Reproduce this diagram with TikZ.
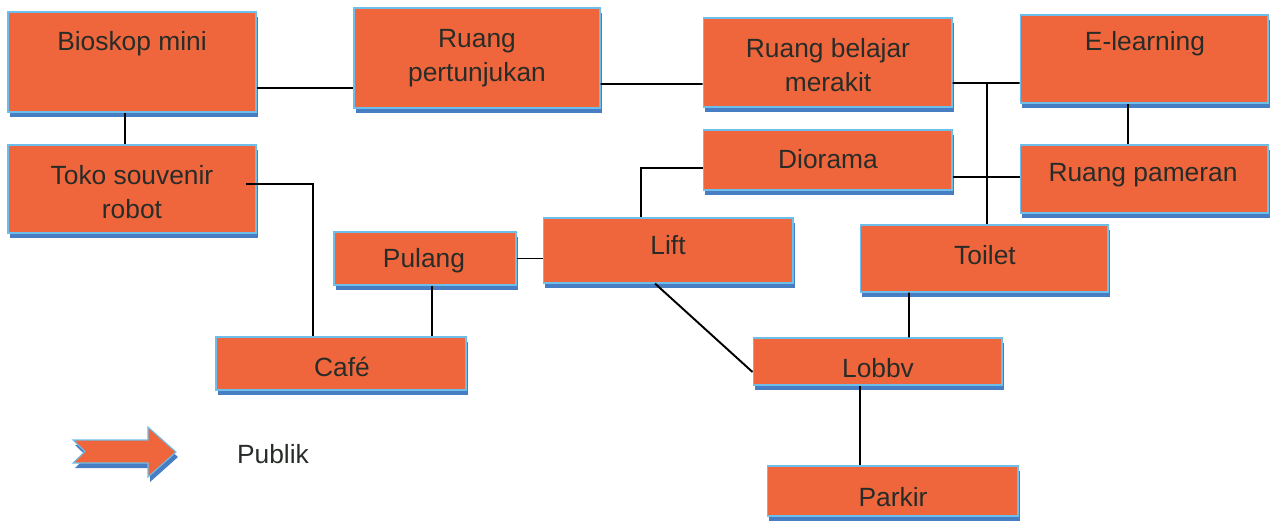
\documentclass[tikz,border=0pt]{standalone}
\usepackage{fontspec}
\setmainfont{Liberation Sans}
\usetikzlibrary{shadows}
\definecolor{boxred}{RGB}{240,102,60}
\definecolor{edgeblue}{RGB}{110,190,235}
\definecolor{shadeblue}{RGB}{70,125,195}
\definecolor{inkgray}{RGB}{40,44,40}

\begin{document}
\begin{tikzpicture}[x=0.02cm,y=-0.02cm,
  room/.style={draw=edgeblue,line width=0.6pt,fill=boxred,inner sep=0pt,
    general shadow={fill=shadeblue,shadow xshift=0.04cm,shadow yshift=-0.1cm}},
  lbl/.style={text=inkgray,font=\fontsize{15}{19.5}\selectfont,align=center,inner sep=0pt},
  link/.style={line width=1.1pt,black}]
\useasboundingbox (0,0) rectangle (1276,522);

% rooms
\node[room,minimum width=4.96cm,minimum height=2.00cm] (bioskop) at (132,62) {};
\node[room,minimum width=4.92cm,minimum height=2.00cm] (pertunjukan) at (477,58) {};
\node[room,minimum width=4.98cm,minimum height=1.78cm] (merakit) at (827.5,62.5) {};
\node[room,minimum width=4.96cm,minimum height=1.76cm] (elearning) at (1144,59) {};
\node[room,minimum width=4.96cm,minimum height=1.76cm] (souvenir) at (132,189) {};
\node[room,minimum width=4.98cm,minimum height=1.20cm] (diorama) at (827.5,160) {};
\node[room,minimum width=4.96cm,minimum height=1.36cm] (pameran) at (1144,179) {};
\node[room,minimum width=4.96cm,minimum height=1.34cm] (toilet) at (984,258.5) {};
\node[room,minimum width=5.00cm,minimum height=1.30cm] (lift) at (668,250.5) {};
\node[room,minimum width=3.64cm,minimum height=1.06cm] (pulang) at (425,258.5) {};
\node[room,minimum width=5.00cm,minimum height=1.06cm] (cafe) at (341,363.5) {};
\node[room,minimum width=4.98cm,minimum height=0.94cm] (lobby) at (877.5,361.5) {};
\node[room,minimum width=5.02cm,minimum height=1.00cm] (parkir) at (892.5,491) {};

% texts
\node[lbl] (bioskop-t) at (132,44) {Bioskop mini};
\node[lbl] (pertunjukan-t) at (477,58) {Ruang\\pertunjukan};
\node[lbl] (merakit-t) at (828,65) {Ruang belajar\\merakit};
\node[lbl] (elearning-t) at (1145,44) {E-learning};
\node[lbl] (souvenir-t) at (132,192) {Toko souvenir\\robot};
\node[lbl] (diorama-t) at (828,159) {Diorama};
\node[lbl] (pameran-t) at (1143,175) {Ruang pameran};
\node[lbl] (toilet-t) at (985,255) {Toilet};
\node[lbl] (lift-t) at (668,245) {Lift};
\node[lbl] (pulang-t) at (424,261) {Pulang};
\node[lbl] (cafe-t) at (342,367) {Café};
\node[lbl] (lobby-t) at (878,368) {Lobbv};
\node[lbl] (parkir-t) at (893,497) {Parkir};

% links
\draw[link] ([shift={(0,26)}]bioskop.east) -- ([shift={(0,30)}]pertunjukan.west);
\draw[link] ([shift={(0,26)}]pertunjukan.east) -- ([shift={(0,21.5)}]merakit.west);
\draw[link] ([shift={(0,20.5)}]merakit.east) -- ([shift={(0,24)}]elearning.west);
\draw[link] ([shift={(3,0)}]toilet.north) |- ([shift={(0,20.5)}]merakit.east);
\draw[link] ([shift={(-16,0)}]elearning.south) -- ([shift={(-16,0)}]pameran.north);
\draw[link] ([shift={(0,17)}]diorama.east) -- ([shift={(0,-2)}]pameran.west);
\draw[link] ([shift={(-7,0)}]bioskop.south) -- ([shift={(-7,0)}]souvenir.north);
\draw[link] ([shift={(-11,-5)}]souvenir.east) -| ([shift={(-28,0)}]cafe.north);
\draw[link] ([shift={(7,0)}]pulang.south) -- ([shift={(91,0)}]cafe.north);
\draw[link] (pulang.east) -- ([shift={(0,8)}]lift.west);
\draw[link] ([shift={(0,8)}]diorama.west) -| ([shift={(-27,0)}]lift.north);
\draw[link] ([shift={(-13,0)}]lift.south) -- ([shift={(0,10.5)}]lobby.west);
\draw[link] ([shift={(-75,0)}]toilet.south) -- ([shift={(31.5,0)}]lobby.north);
\draw[link] ([shift={(-17.5,0)}]lobby.south) -- ([shift={(-32.5,0)}]parkir.north);

% legend
\path[room] (73,440) -- (148,440) -- (148,427) -- (176,452) -- (148,477)
  -- (148,463) -- (73,463) -- (85,451.5) -- cycle;
\node[lbl] (publik) at (273,454) {Publik};
\end{tikzpicture}
\end{document}
